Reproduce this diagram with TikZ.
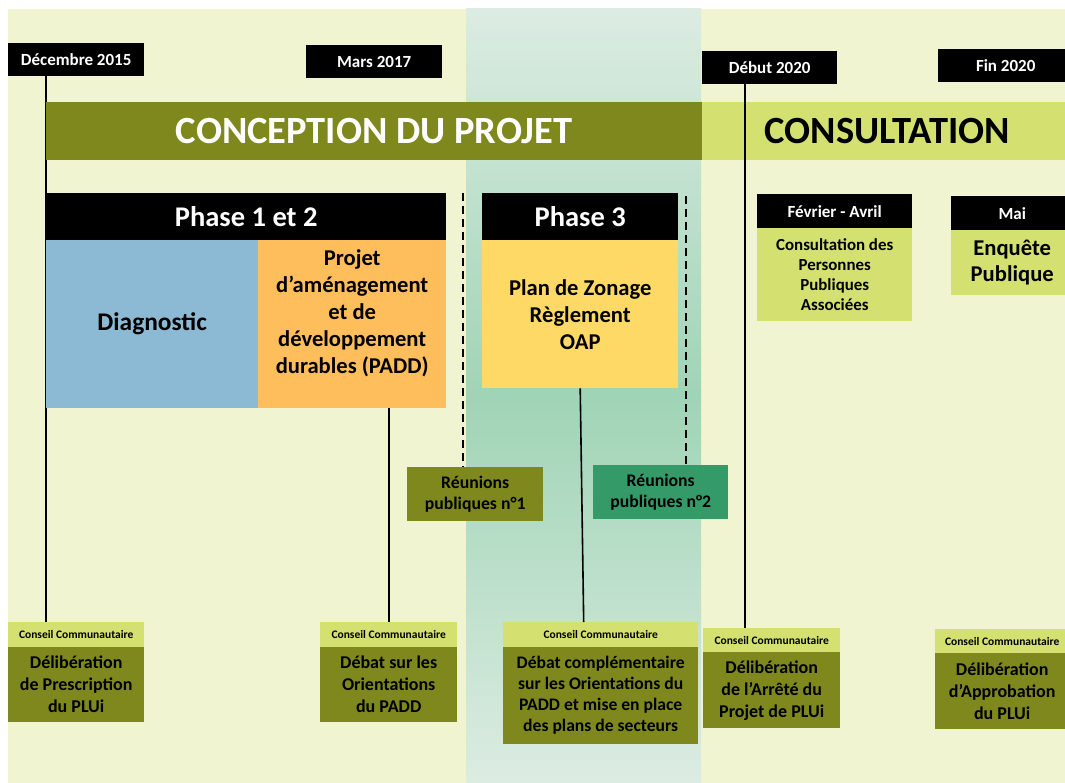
\documentclass[tikz,border=0pt]{standalone}
\usepackage{fontspec}
\setmainfont{Carlito}
\usetikzlibrary{positioning}

\definecolor{paleyellow}{HTML}{F0F4D1}
\definecolor{olive}{HTML}{7E881C}
\definecolor{limegreen}{HTML}{D4E06F}
\definecolor{diagblue}{HTML}{8CB9D3}
\definecolor{paddorange}{HTML}{FFBE5C}
\definecolor{zoneyellow}{HTML}{FFD966}
\definecolor{reugreen}{HTML}{349B68}
\definecolor{tealtop}{HTML}{DCECE2}
\definecolor{tealmid}{HTML}{A0D4B6}

\newcommand{\fs}[2]{\bfseries\fontsize{#1}{#2}\selectfont}

\tikzset{
  box/.style={anchor=north west, inner sep=0pt, align=center},
  datetag/.style={box, fill=black, text=white, font=\fs{17}{20}, minimum height=33},
  band/.style={box, minimum height=58, font=\fs{38.5}{44}},
  phasehead/.style={box, fill=black, text=white, font=\fs{28.5}{32}, minimum height=47},
  smallhead/.style={box, fill=black, text=white, font=\fs{17}{20}, minimum height=34},
  conseil/.style={box, fill=limegreen, font=\fs{11.5}{13}, minimum height=25},
  delib/.style={box, fill=olive, font=\fs{18}{22}},
  reunion/.style={box, font=\fs{17.7}{21}, minimum width=136, minimum height=54},
  timeline/.style={line width=1.6pt, black},
  meeting/.style={line width=1.8pt, black, dash pattern=on 8pt off 5pt}
}

\begin{document}
\begin{tikzpicture}[x=1pt, y=-1pt]
  \useasboundingbox (0,0) rectangle (1065,783);
  \clip (0,0) rectangle (1065,783);

  % Draw the background and the phase 3 band
  \fill[white] (0,0) rectangle (1065,783);
  \fill[paleyellow] (8,9) rectangle (1065,783);
  \shade[top color=tealtop, bottom color=tealtop, middle color=tealmid] (466,9) rectangle (701,783);

  % Dates
  \node[datetag, minimum width=136] (dec) at (8,43) {Décembre 2015};
  \node[datetag, minimum width=136] (mars) at (306,45) {Mars 2017};
  \node[datetag, minimum width=135] (debut) at (702,51) {Début 2020};
  \node[datetag, minimum width=135] (fin) at (938,49) {Fin 2020};

  % Conseil Communautaire boxes
  \node[conseil, minimum width=136] (cc1) at (8,622) {Conseil Communautaire};
  \node[delib, minimum width=136, minimum height=75] (del1) at (8,647) {Délibération\\de Prescription\\du PLUi};
  \node[conseil, minimum width=137] (cc2) at (320,622) {Conseil Communautaire};
  \node[delib, minimum width=137, minimum height=75] (del2) at (320,647) {Débat sur les\\Orientations\\du PADD};
  \node[conseil, minimum width=195] (cc3) at (503,622) {Conseil Communautaire};
  \node[delib, font=\fs{17.6}{21}, minimum width=195, minimum height=97] (del3) at (503,647) {Débat complémentaire\\sur les Orientations du\\PADD et mise en place\\des plans de secteurs};
  \node[conseil, minimum width=137] (cc4) at (703,628) {Conseil Communautaire};
  \node[delib, minimum width=137, minimum height=76] (del4) at (703,652) {Délibération\\de l’Arrêté du\\Projet de PLUi};
  \node[conseil, minimum width=134] (cc5) at (935,629) {Conseil Communautaire};
  \node[delib, minimum width=134, minimum height=76] (del5) at (935,653) {Délibération\\d’Approbation\\du PLUi};

  % Start of the timeline, under the bar
  \draw[timeline] ([xshift=38pt]dec.south west) -- ([xshift=38pt]cc1.north west);

  % Bars
  \node[band, fill=olive, text=white, minimum width=656] (conception) at (46,102) {CONCEPTION DU PROJET};
  \node[band, fill=limegreen, minimum width=370] (consult) at (702,102) {CONSULTATION};

  % Phase 1 et 2
  \node[phasehead, minimum width=400] (ph12) at (46,193) {Phase 1 et 2};
  \node[box, fill=diagblue, font=\fs{25.4}{30}, minimum width=212, minimum height=168] (diag) at (46,240) {Diagnostic};
  \node[box, fill=paddorange, font=\fs{22.6}{27}, text depth=25pt, minimum width=188, minimum height=168] (padd) at (258,240) {Projet\\d’aménagement\\et de\\développement\\durables (PADD)};

  % Phase 3
  \node[phasehead, minimum width=196] (ph3) at (482,193) {Phase 3};
  \node[box, fill=zoneyellow, font=\fs{22.6}{27}, minimum width=196, minimum height=148] (zonage) at (482,240) {Plan de Zonage\\Règlement\\OAP};

  % Public meetings
  \node[reunion, fill=olive] (reu1) at (407,467) {Réunions\\publiques n°1};
  \node[reunion, fill=reugreen, minimum width=135] (reu2) at (593,465) {Réunions\\publiques n°2};
  \coordinate (m1) at (463,193);
  \coordinate (m2) at (686,196);
  \draw[meeting] (m1) -- (reu1.north -| m1);
  \draw[meeting] (m2) -- (reu2.north -| m2);

  % Consultation
  \node[smallhead, minimum width=155] (fev) at (757,194) {Février - Avril};
  \node[box, fill=limegreen, font=\fs{16.9}{20}, minimum width=155, minimum height=93] (ppa) at (757,228) {Consultation des\\Personnes\\Publiques\\Associées};
  \node[smallhead, minimum width=122] (mai) at (951,196) {Mai};
  \node[box, fill=limegreen, font=\fs{22.6}{26}, minimum width=122, minimum height=65] (enq) at (951,230) {Enquête\\Publique};

  % Timeline links
  \draw[timeline] (padd.south -| cc2.north) -- (cc2.north);
  \draw[timeline] (zonage.south) -- ([xshift=-17pt]cc3.north);
  \draw[timeline] ([xshift=-25pt]debut.south) -- ([xshift=-27pt]cc4.north);
\end{tikzpicture}
\end{document}
